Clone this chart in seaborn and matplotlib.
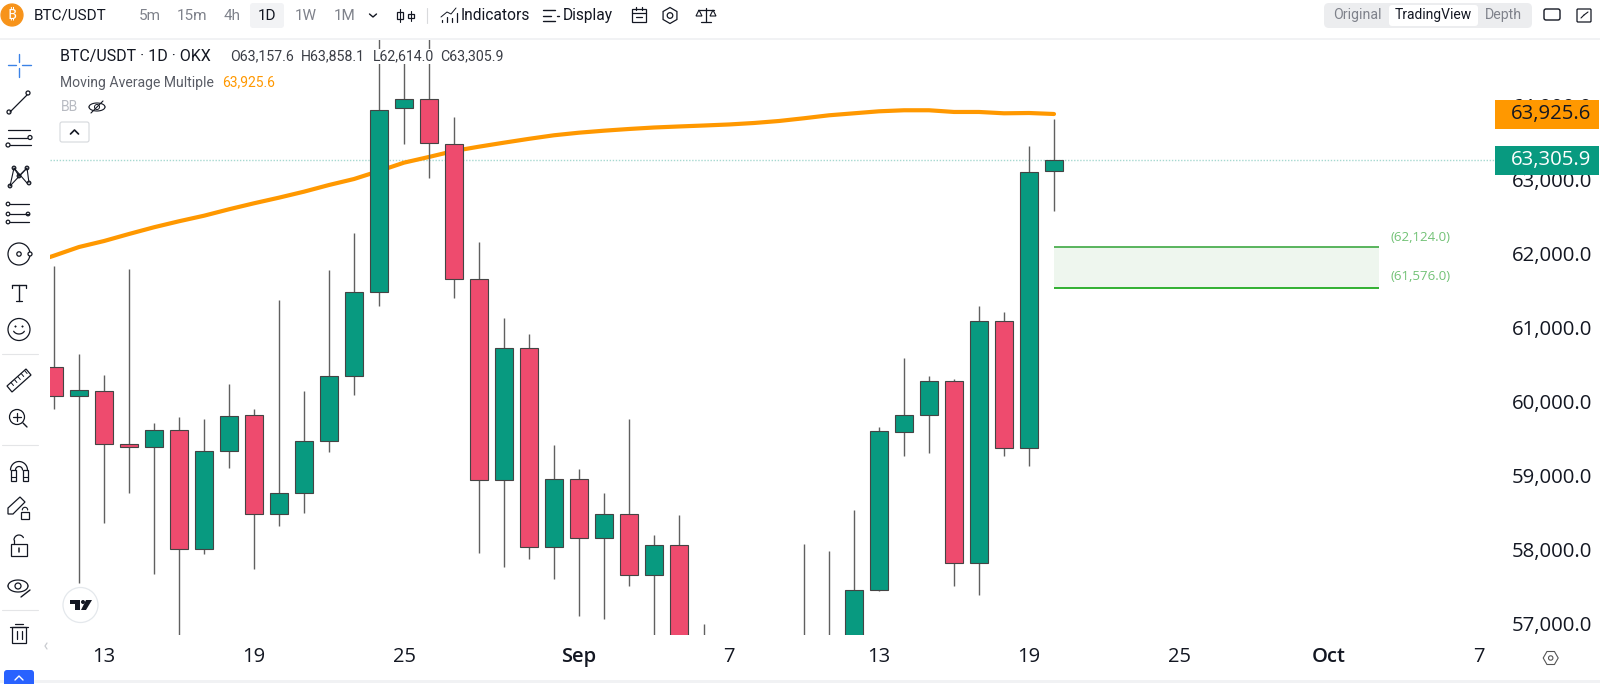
import numpy as np
import pandas as pd
import matplotlib
matplotlib.use("Agg")
import matplotlib.pyplot as plt
from matplotlib.patches import Circle, FancyBboxPatch, Polygon, Rectangle
import seaborn as sns


# =========================================
# DATA
# =========================================

opens = [60511, 60115, 60182, 59466, 59421, 59659, 58047, 59375, 59854, 58516,
         58808, 59502, 60389, 61520, 64009, 64124, 63520, 61692, 58980, 60759,
         58070, 58989, 58196, 58516, 57696, 58101, 56700, 56500, 56400, 56300,
         56300, 56700, 56700, 57489, 59632, 59854, 60317, 57854, 61128, 59408,
         63157.6]
closes = [60115, 60192, 59466, 59421, 59659, 58047, 59375, 59840, 58516, 58808,
          59502, 60385, 61520, 63975, 64128, 63530, 61692, 58980, 60759, 58070,
          58989, 58196, 58516, 57696, 58101, 56700, 56500, 56400, 56300, 56200,
          56700, 56800, 57489, 59642, 59854, 60317, 57854, 61128, 59408, 63146,
          63305.9]
highs = [61876, 60682, 60398, 61831, 59746, 59827, 59808, 60277, 59935, 61412,
         60182, 61817, 62321, 65200, 64700, 65200, 63885, 62196, 61173, 60952,
         59448, 59128, 58800, 59800, 58232, 58506, 57030, 56600, 56500, 56400,
         58115, 58024, 58574, 59692, 60632, 60389, 60344, 61331, 61254, 63497,
         63858.1]
lows = [59935, 57584, 58394, 58808, 57705, 56850, 57980, 59138, 57781, 58362,
        58534, 59362, 60124, 61335, 63520, 63065, 61443, 57989, 57808, 57916,
        57638, 57146, 57105, 57547, 56850, 56500, 56300, 56200, 56100, 56000,
        56200, 56500, 56500, 57480, 59304, 59348, 57543, 57421, 59304, 59173,
        62614.0]

ma_values = [61899, 62011, 62128, 62209, 62304, 62395, 62476, 62551, 62638, 62719,
             62795, 62876, 62966, 63047, 63155, 63268, 63345, 63426, 63484, 63538,
             63590, 63638, 63673, 63700, 63723, 63743, 63757, 63770, 63784, 63804,
             63831, 63868, 63908, 63935, 63962, 63976, 63976, 63953, 63953, 63935,
             63939, 63925.6]

zone_top = 62124.0
zone_bottom = 61576.0
last_price = 63305.9
ma_last = 63925.6

price_ticks = [57000, 58000, 59000, 60000, 61000, 62000, 63000, 64000]
day_ticks = [2, 8, 14, 21, 27, 33, 39, 45, 51, 57]
day_labels = ["13", "19", "25", "Sep", "7", "13", "19", "25", "Oct", "7"]
bold_labels = ["Sep", "Oct"]

GREEN = "#089A80"
RED = "#EE4B6E"
ORANGE = "#FF9800"
INK = "#131722"
GREY = "#7F828B"


# =========================================
# MAIN CHART
# =========================================

sns.set_theme(style="white")
plt.rcParams["font.family"] = ["Roboto", "DejaVu Sans"]

fig = plt.figure(figsize=(16, 6.84), dpi=100, facecolor="white")
ax = fig.add_axes([50 / 1600, 1 - 635 / 684, 1445 / 1600, 596 / 684])

days = np.arange(len(opens))
candles = pd.DataFrame({"day": days, "open": opens, "close": closes, "high": highs, "low": lows})
candles["color"] = np.where(candles["close"] >= candles["open"], GREEN, RED)

ax.axhline(last_price, color="#A6D8D0", lw=1, ls=(0, (1, 1.2)), zorder=1)

ma = pd.DataFrame({"day": np.arange(-1, len(ma_values) - 1), "ma": ma_values})
sns.lineplot(data=ma, x="day", y="ma", color=ORANGE, lw=3, ax=ax, zorder=2,
             solid_capstyle="round", errorbar=None)

ax.vlines(candles["day"], candles["low"], candles["high"], color="#606060", lw=1, zorder=3)
ax.bar(candles["day"], (candles["close"] - candles["open"]).abs(),
       bottom=candles[["open", "close"]].min(axis=1), width=0.74,
       color=candles["color"], edgecolor="#444444", lw=0.8, zorder=4)

# green zone
ax.fill_between([40, 53], zone_bottom, zone_top, color="#EEF6EE", lw=0, zorder=1)
ax.hlines(zone_top, 40, 53, color="#4CAF50", lw=1.3, zorder=2)
ax.hlines(zone_bottom, 40, 53, color="#22AA22", lw=1.3, zorder=2)
for value, yoff in [(zone_top, 10), (zone_bottom, 11)]:
    ax.annotate(f"({value:,.1f})", (53.47, value), xytext=(0, yoff), textcoords="offset pixels",
                color="#72C276", fontsize=9.5, fontfamily="Open Sans", fontweight="medium",
                va="center", ha="left")

ax.set_xlim(-0.16, 57.64)
ax.set_ylim(56885, 64939)
ax.set_xlabel("")
ax.set_ylabel("")
ax.set_xticks(day_ticks)
ax.set_xticklabels(day_labels, fontfamily="Open Sans", fontsize=14.5, color=INK)
for tick_label in ax.get_xticklabels():
    if tick_label.get_text() in bold_labels:
        tick_label.set_fontweight("semibold")
ax.set_yticks(price_ticks)
ax.set_yticklabels([f"{p:,.1f}" for p in price_ticks], fontfamily="Open Sans", fontsize=14.7,
                   color=INK, ha="right", va="center")
ax.yaxis.tick_right()
ax.tick_params(axis="y", length=0, pad=70)
ax.tick_params(axis="x", length=0, pad=8.7)
sns.despine(ax=ax, left=True, right=True, top=True, bottom=True)
ax.patch.set_alpha(0)


# =========================================
# OVERLAY IN PIXEL COORDINATES
# =========================================

ui = fig.add_axes([0, 0, 1, 1], zorder=5)
ui.set_xlim(0, 1600)
ui.set_ylim(684, 0)
ui.axis("off")
ui.patch.set_alpha(0)


def label(x, y, text, size=11, color=INK, ha="left", weight="normal", bg=False):
    box = dict(facecolor="white", edgecolor="none", pad=0.5) if bg else None
    ui.text(x, y, text, fontsize=size, color=color, ha=ha, va="center", fontweight=weight, bbox=box)


def stroke(xs, ys, color=INK, lw=0.9):
    ui.plot(xs, ys, color=color, lw=lw, solid_capstyle="round")


def ring(x, y, r, color=INK, lw=0.9, face="none"):
    ui.add_patch(Circle((x, y), r, facecolor=face, edgecolor=color, lw=lw))


def round_box(x0, y0, x1, y1, face, edge="none", rad=3, lw=0.8):
    ui.add_patch(FancyBboxPatch((x0 + rad, y0 + rad), x1 - x0 - 2 * rad, y1 - y0 - 2 * rad,
                                boxstyle=f"round,pad={rad},rounding_size={rad}",
                                facecolor=face, edgecolor=edge, lw=lw))


# frame lines
ui.add_patch(Rectangle((0, 37.5), 1600, 2, facecolor="#F1F2F4", edgecolor="none"))
ui.add_patch(Rectangle((0, 679.5), 1600, 3, facecolor="#F1F2F4", edgecolor="none"))

# price labels on the right
ui.add_patch(Rectangle((1495, 100), 104, 28.5, facecolor=ORANGE, edgecolor="none"))
ui.text(1591, 114, f"{ma_last:,.1f}", fontsize=14.7, fontfamily="Open Sans", color=INK, ha="right", va="center")
ui.add_patch(Rectangle((1495, 146), 104, 29, facecolor=GREEN, edgecolor="none"))
ui.text(1591, 159.5, f"{last_price:,.1f}", fontsize=14.7, fontfamily="Open Sans", color="white", ha="right", va="center")

# top bar
ring(12, 15, 11, color="#F7931A", face="#F7931A")
ui.text(12, 15, "₿", fontsize=11, color="white", ha="center", va="center",
        family=["Noto Sans", "Open Sans", "Inter", "Lato", "Roboto", "Liberation Sans"], fontweight="bold")
label(33.5, 15.5, "BTC/USDT", size=11)
round_box(250, 3, 284, 28, "#F2F3F5")
for x, text, col in [(150, "5m", GREY), (192, "15m", GREY), (232, "4h", GREY),
                     (267, "1D", INK), (306, "1W", GREY), (345, "1M", GREY)]:
    label(x, 15.5, text, size=11, color=col, ha="center")
stroke([369.5, 373, 376.5], [14, 17, 14], lw=1)
# candle icon
for x, top, bot in [(400, 9, 22), (411, 11, 21)]:
    stroke([x, x], [top, bot], lw=0.8)
    ui.add_patch(Rectangle((x - 3, top + 3), 6, bot - top - 6, facecolor="white", edgecolor=INK, lw=0.9))
stroke([427, 427], [8, 23], color="#D9DADC", lw=0.8)
# indicators icon
stroke([441, 447, 451, 456], [17, 12, 14, 8], lw=0.7)
for x, y0 in [(442, 20), (447, 17), (452, 18), (457, 13)]:
    stroke([x, x], [y0, 22], lw=0.9)
label(461, 15.5, "Indicators", size=11.2)
# display icon
stroke([543, 555], [10, 10], lw=1)
stroke([543, 551], [15.5, 15.5], lw=1)
stroke([543, 555], [21, 21], lw=1)
stroke([557, 559], [15.5, 15.5], lw=1)
label(563, 15.5, "Display", size=11.2)
# calendar, gear and scale
ui.add_patch(Rectangle((632, 9), 14, 13, facecolor="none", edgecolor=INK, lw=0.9))
stroke([632, 646], [13, 13], lw=0.9)
stroke([636, 636], [7, 10], lw=0.9)
stroke([642, 642], [7, 10], lw=0.9)
stroke([636, 642], [17, 17], lw=0.9)
angles = np.linspace(0, 2 * np.pi, 7)
ui.add_patch(Polygon(np.c_[670 + 8 * np.sin(angles), 15.5 + 8 * np.cos(angles)], closed=True,
                     facecolor="none", edgecolor=INK, lw=0.9))
ring(670, 15.5, 2.8)
stroke([698, 714], [10, 10], lw=0.9)
stroke([706, 706], [8, 22], lw=0.9)
stroke([701, 711], [22, 22], lw=0.9)
ui.add_patch(Polygon([[696, 16], [702, 16], [699, 10]], closed=True, facecolor="none", edgecolor=INK, lw=0.8))
ui.add_patch(Polygon([[710, 16], [716, 16], [713, 10]], closed=True, facecolor="none", edgecolor=INK, lw=0.8))

# view switch
round_box(1324, 3, 1532, 28, "#ECEDEF", rad=5)
round_box(1389, 5, 1478, 26, "white", rad=3)
label(1357, 15.5, "Original", size=10.2, color=GREY, ha="center")
label(1433, 15.5, "TradingView", size=10, color=INK, ha="center")
label(1503, 15.5, "Depth", size=10.2, color=GREY, ha="center")
round_box(1544, 9, 1560, 20, "white", edge=INK, rad=2, lw=1)
round_box(1577, 9, 1591, 22, "white", edge=INK, rad=1, lw=0.9)
stroke([1581, 1584], [18, 15], lw=0.8)
stroke([1584, 1588], [15, 12], lw=0.8)

# legend block
label(60.5, 56.5, "BTC/USDT · 1D · OKX", size=11.5, bg=True)
for x, text in [(230.5, "O63,157.6"), (301, "H63,858.1"), (373, "L62,614.0"), (440.5, "C63,305.9")]:
    label(x, 56.5, text, size=10.2, color="#3A3D45", bg=True)
label(60.5, 82.5, "Moving Average Multiple", size=10.1, color="#5A5D66")
label(222.5, 82.5, f"{ma_last:,.1f}", size=10, color=ORANGE)
label(60.5, 107, "BB", size=10, color="#B8BBC2")
theta = np.linspace(0, np.pi, 20)
stroke(97 + 8 * np.cos(theta), 107 - 4 * np.sin(theta), lw=0.8)
stroke(97 + 8 * np.cos(theta), 107 + 4 * np.sin(theta), lw=0.8)
ring(97, 107, 2.5, lw=0.7)
stroke([91, 103], [113, 101], lw=0.8)
round_box(60, 122, 89, 142, "white", edge="#D5D8DC", rad=2, lw=0.8)
stroke([70.5, 74.5, 78.5], [134, 130, 134], lw=1.2)

# left tool column
stroke([19, 19], [54, 62], color="#3B82E6", lw=1)
stroke([19, 19], [68, 77], color="#3B82E6", lw=1)
stroke([8, 16], [65, 65], color="#3B82E6", lw=1)
stroke([22, 31], [65, 65], color="#3B82E6", lw=1)
stroke([10, 27], [112, 95], lw=0.9)
ring(9, 112, 2, face="white")
ring(28, 93, 2, face="white")
stroke([8, 30], [130, 130], lw=0.9)
stroke([8, 27], [137.5, 137.5], lw=0.9)
ring(30, 137.5, 2, face="white")
stroke([10, 31], [145, 145], lw=0.9)
ring(8, 145, 2, face="white")
pts = [(10, 186), (14, 168), (19, 176), (27, 168), (29, 183)]
stroke([p[0] for p in pts], [p[1] for p in pts], lw=0.8)
stroke([14, 27], [168, 183], lw=0.8)
stroke([10, 27], [186, 168], lw=0.8)
for p in pts:
    ring(p[0], p[1], 1.8, face="white")
for y, xs in [(204, (10, 29)), (214, (10, 29)), (222, (10, 29))]:
    stroke(list(xs), [y, y], lw=0.9)
    ring(8, y, 1.8, face="white")
ring(28, 214, 1.8, face="white")
ring(19, 254, 11, lw=0.9)
ring(19, 254, 2.2, lw=0.9)
ring(30, 254, 2, face="white")
stroke([12, 26], [285, 285], lw=1)
stroke([19, 19], [285, 301], lw=1)
stroke([16, 22], [301, 301], lw=0.9)
stroke([12, 12], [285, 288], lw=0.9)
stroke([26, 26], [285, 288], lw=0.9)
ring(19, 329.5, 11, lw=0.9)
ring(15.5, 326.5, 0.7, face=INK, lw=0.4)
ring(22.5, 326.5, 0.7, face=INK, lw=0.4)
smile = np.linspace(0.15 * np.pi, 0.85 * np.pi, 12)
stroke(19 + 6 * np.cos(smile), 329 + 5 * np.sin(smile), lw=0.9)
stroke([2, 38], [354, 354], color="#E4E5E7", lw=0.8)
ui.add_patch(Polygon([[7, 386], [26, 369], [31, 375], [12, 392]], closed=True, facecolor="none", edgecolor=INK, lw=0.9))
for i in range(5):
    stroke([11 + 3.4 * i, 13.5 + 3.4 * i], [382.5 - 3 * i, 385.5 - 3 * i], lw=0.7)
ring(17, 417, 7.5)
stroke([13, 21], [417, 417], lw=0.9)
stroke([17, 17], [413, 421], lw=0.9)
stroke([23, 27], [423, 427], lw=1)
stroke([2, 38], [445, 445], color="#E4E5E7", lw=0.8)
arc = np.linspace(0, np.pi, 20)
stroke(19 + 8.5 * np.cos(arc), 470 - 8.5 * np.sin(arc), lw=0.9)
stroke(19 + 3.5 * np.cos(arc), 470 - 3.5 * np.sin(arc), lw=0.9)
for x0, x1 in [(10.5, 15.5), (22.5, 27.5)]:
    ui.add_patch(Rectangle((x0, 470), x1 - x0, 11, facecolor="none", edgecolor=INK, lw=0.9))
    stroke([x0, x1], [477, 477], lw=0.8)
ui.add_patch(Polygon([[8, 508], [20, 497], [25, 502], [13, 514], [8, 514]], closed=True, facecolor="none", edgecolor=INK, lw=0.9))
ui.add_patch(Rectangle((21, 512), 8, 7, facecolor="white", edgecolor=INK, lw=0.9))
stroke(25 + 2.7 * np.cos(arc), 510 - 2.7 * np.sin(arc), lw=0.8)
ui.add_patch(Rectangle((11, 544), 16, 12, facecolor="none", edgecolor=INK, lw=0.9))
stroke([19, 19], [548, 552], lw=1.1)
stroke(19 + 5 * np.cos(arc[3:]), 540 - 5 * np.sin(arc[3:]), lw=0.9)
stroke([14, 14], [540, 544], lw=0.9)
stroke(18 + 10 * np.cos(theta), 586 - 6 * np.sin(theta), lw=0.9)
stroke(18 + 10 * np.cos(theta), 586 + 6 * np.sin(theta), lw=0.9)
ring(18, 586, 3, lw=0.9)
stroke([21, 30], [597, 590], lw=1)
stroke([2, 38], [610, 610], color="#E4E5E7", lw=0.8)
stroke([10, 28], [627, 627], lw=0.9)
stroke([15, 23], [624, 624], lw=0.9)
ui.add_patch(Rectangle((12, 627), 14, 16, facecolor="none", edgecolor=INK, lw=0.9))
stroke([16.5, 16.5], [631, 639], lw=0.9)
stroke([21.5, 21.5], [631, 639], lw=0.9)
stroke([47, 45, 47], [643, 646, 649], color="#C9CBD0", lw=0.9)
round_box(4, 670, 34, 690, "#2962FF", rad=3)
stroke([15, 19, 23], [680, 676, 680], color="white", lw=1)

# TradingView badge
ring(80.5, 605, 17.5, color="#E4E8EC", lw=0.9, face="white")
ui.add_patch(Polygon([[70, 600], [80, 600], [80, 610], [75, 610], [75, 604], [70, 604]], closed=True,
                     facecolor="#131722", edgecolor="none"))
ring(83, 602, 2, color="#131722", face="#131722", lw=0)
ui.add_patch(Polygon([[86, 600], [92, 600], [86, 610], [81, 610]], closed=True, facecolor="#131722", edgecolor="none"))

# settings hexagon
hexa = np.linspace(0, 2 * np.pi, 7)
ui.add_patch(Polygon(np.c_[1550.7 + 7.5 * np.cos(hexa), 658 + 7.5 * np.sin(hexa)], closed=True,
                     facecolor="none", edgecolor="#555555", lw=0.8))
ring(1550.7, 658, 2.2, color="#555555", lw=0.8)

fig.savefig("out.png", dpi=100)
